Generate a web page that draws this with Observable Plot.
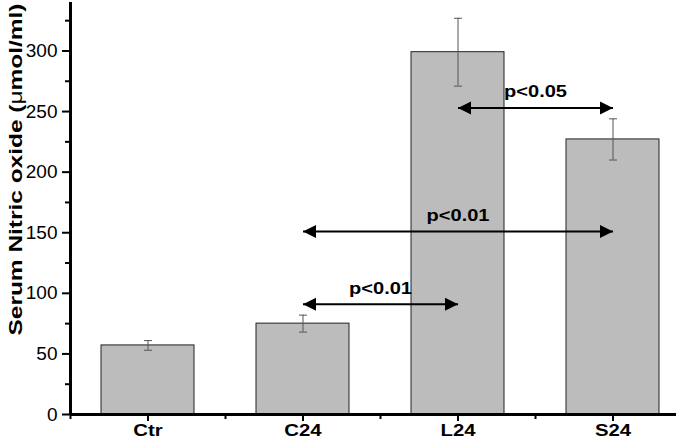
<!DOCTYPE html>
<html><head><meta charset="utf-8">
<script src="https://cdn.jsdelivr.net/npm/d3@7"></script>
<script src="https://cdn.jsdelivr.net/npm/@observablehq/plot@0.6"></script>
<style>body{margin:0;background:#fff} svg{display:block}</style>
</head><body><div id="chart"></div>
<script>
// ---- data ----
const categories = ["Ctr", "C24", "L24", "S24"];
const means = [57, 75, 299, 227];
const errors = [4, 7, 28, 17];
const compFrom = ["C24", "C24", "L24"];
const compTo = ["L24", "S24", "S24"];
const compY = [91, 151, 253];
const compLabel = ["p<0.01", "p<0.01", "p<0.05"];
const yMajorTicks = [0, 50, 100, 150, 200, 250, 300];
const yMinorTicks = [25, 75, 125, 175, 225, 275, 325];
const yTitle = "Serum Nitric oxide (μmol/ml)";

const bars = categories.map((c, i) => ({cat: c, i, mean: means[i], err: errors[i]}));
const comps = compFrom.map((f, k) => ({
  x1: categories.indexOf(f), x2: categories.indexOf(compTo[k]), y: compY[k], label: compLabel[k]
}));

const rightHead = {draw(ctx) { ctx.moveTo(0, 0); ctx.lineTo(-13, -6.5); ctx.lineTo(-13, 6.5); ctx.closePath(); }};
const leftHead = {draw(ctx) { ctx.moveTo(0, 0); ctx.lineTo(13, -6.5); ctx.lineTo(13, 6.5); ctx.closePath(); }};
const cap = {draw(ctx) { ctx.moveTo(-4, 0); ctx.lineTo(4, 0); }};

const font = "'Liberation Sans', Arial, sans-serif";

const chart = Plot.plot({
  width: 676,
  height: 444,
  marginLeft: 70,
  marginRight: 0,
  marginTop: 2,
  marginBottom: 30,
  style: {fontFamily: font, fontSize: "17px", color: "#000", background: "#fff"},
  x: {domain: [-0.5, 3.5], range: [70, 690]},
  y: {domain: [0, 340]},
  marks: [
    Plot.rectY(bars, {x1: d => d.i - 0.3, x2: d => d.i + 0.3, y: "mean", fill: "#bcbcbc", stroke: "#222", strokeWidth: 1}),
    Plot.ruleX(bars, {x: "i", y1: d => d.mean - d.err, y2: d => d.mean + d.err, stroke: "#555", strokeWidth: 1}),
    Plot.dot(bars, {x: "i", y: d => d.mean + d.err, symbol: cap, stroke: "#555", strokeWidth: 1, fill: "none"}),
    Plot.dot(bars, {x: "i", y: d => d.mean - d.err, symbol: cap, stroke: "#555", strokeWidth: 1, fill: "none"}),
    Plot.link(comps, {x1: "x1", x2: "x2", y1: "y", y2: "y", stroke: "#000", strokeWidth: 2}),
    Plot.dot(comps, {x: "x1", y: "y", symbol: leftHead, fill: "#000", stroke: "none"}),
    Plot.dot(comps, {x: "x2", y: "y", symbol: rightHead, fill: "#000", stroke: "none"}),
    Plot.text(comps, {x: d => (d.x1 + d.x2) / 2, y: "y", text: "label", dy: -16, fontWeight: "bold", fontSize: 17}),
    Plot.axisY({ticks: yMajorTicks, tickSize: 8, tickPadding: 5, label: null, strokeWidth: 2, fontSize: 19}),
    Plot.axisY({ticks: yMinorTicks, tickSize: 5, tickFormat: () => "", label: null, strokeWidth: 2}),
    Plot.axisX({ticks: [0, 1, 2, 3], tickFormat: i => categories[i], tickSize: 7, tickPadding: 3, label: null, fontWeight: "bold", fontSize: 16, strokeWidth: 2}),
    Plot.axisX({ticks: [-0.5, 0.5, 1.5, 2.5], tickSize: 5, tickFormat: () => "", label: null, strokeWidth: 2}),
    Plot.ruleY([0], {stroke: "#000", strokeWidth: 3}),
    Plot.ruleX([-0.5], {stroke: "#000", strokeWidth: 3}),
    Plot.text([yTitle], {frameAnchor: "top-left", rotate: -90, textAnchor: "end", dx: -61, dy: 1, fontWeight: "bold", fontSize: 18})
  ]
});

document.getElementById("chart").appendChild(chart);

const yTickStrings = yMajorTicks.map(String);

// Typographic adjustments to mimic the original figure's lettering
d3.select(chart).selectAll("text").each(function() {
  const txt = this.textContent;
  if (txt === yTitle) {
    const t = d3.select(this);
    t.text(null);
    t.append("tspan").text("Serum Nitric oxide (");
    t.append("tspan").attr("font-weight", "normal").text("μ");
    t.append("tspan").text("mol/ml)");
    t.attr("textLength", 332).attr("lengthAdjust", "spacingAndGlyphs");
  } else if (yTickStrings.includes(txt)) {
    d3.select(this).style("font-size", "19px");
  } else if (categories.includes(txt)) {
    d3.select(this).style("font-size", "16px");
    const w = this.getComputedTextLength();
    d3.select(this).attr("textLength", w * 1.27).attr("lengthAdjust", "spacingAndGlyphs");
  } else if (compLabel.includes(txt)) {
    d3.select(this).style("font-size", "17px");
    const w = this.getComputedTextLength();
    d3.select(this).attr("textLength", w * 1.18).attr("lengthAdjust", "spacingAndGlyphs");
  }
});
</script>
</body></html>
